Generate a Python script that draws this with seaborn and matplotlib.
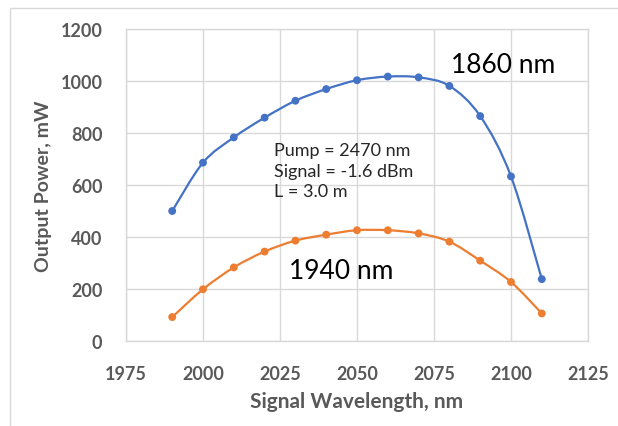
import numpy as np
import pandas as pd
import matplotlib
matplotlib.use("Agg")
import matplotlib.pyplot as plt
from matplotlib.path import Path
from matplotlib.patches import PathPatch
from matplotlib.lines import Line2D
import seaborn as sns

wavelength = [1990, 2000, 2010, 2020, 2030, 2040, 2050, 2060, 2070, 2080, 2090, 2100, 2110]
power_1860 = [500, 686, 783, 859, 924, 969, 1003, 1017, 1014, 981, 865, 633, 238]
power_1940 = [92, 199, 283, 344, 386, 409, 426, 426, 414, 382, 309, 227, 106]
series_names = ["1860 nm", "1940 nm"]
colors = ["#4472C4", "#ED7D31"]
x_ticks = [1975, 2000, 2025, 2050, 2075, 2100, 2125]
y_ticks = [0, 200, 400, 600, 800, 1000, 1200]

df = pd.DataFrame({
    "wl": wavelength * 2,
    "p": power_1860 + power_1940,
    "s": [series_names[0]] * len(wavelength) + [series_names[1]] * len(wavelength),
})

sns.set_style("white")
plt.rcParams["font.family"] = ["Lato", "DejaVu Sans"]

fig = plt.figure(figsize=(6.18, 4.27), dpi=100)
ax = fig.add_axes([126 / 618, 85 / 427, 462 / 618, 312 / 427])

ax.set_xlim(1975, 2125)
ax.set_ylim(0, 1200)
ax.set_xticks(x_ticks)
ax.set_yticks(y_ticks)
ax.grid(True, color="#d9d9d9", linewidth=1.0)
ax.set_axisbelow(True)
for sp in ax.spines.values():
    sp.set_color("#d9d9d9")
    sp.set_linewidth(1.0)


def smooth_path(xs, ys):
    # Excel-style smoothed line: Catmull-Rom converted to cubic Bezier segments
    xs = np.asarray(xs, float)
    ys = np.asarray(ys, float)
    n = len(xs)
    verts = [(xs[0], ys[0])]
    codes = [Path.MOVETO]
    t = 1.0 / 6.0
    for i in range(n - 1):
        p0 = (xs[max(i - 1, 0)], ys[max(i - 1, 0)])
        p1 = (xs[i], ys[i])
        p2 = (xs[i + 1], ys[i + 1])
        p3 = (xs[min(i + 2, n - 1)], ys[min(i + 2, n - 1)])
        c1 = (p1[0] + (p2[0] - p0[0]) * t, p1[1] + (p2[1] - p0[1]) * t)
        c2 = (p2[0] - (p3[0] - p1[0]) * t, p2[1] - (p3[1] - p1[1]) * t)
        verts += [c1, c2, p2]
        codes += [Path.CURVE4] * 3
    return Path(verts, codes)


for name, col, vals in zip(series_names, colors, [power_1860, power_1940]):
    ax.add_patch(PathPatch(smooth_path(wavelength, vals), facecolor="none",
                           edgecolor=col, linewidth=1.6, zorder=3))

sns.scatterplot(data=df, x="wl", y="p", hue="s", palette=colors, s=32,
                edgecolor="none", legend=False, ax=ax, zorder=4)

ax.set_xlabel("Signal Wavelength, nm", fontsize=15, fontweight="bold", color="#595959", labelpad=7)
ax.set_ylabel("Output Power, mW", fontsize=14, fontweight="bold", color="#595959", labelpad=6)
ax.tick_params(axis="x", length=0, labelsize=13, labelcolor="#595959", pad=17)
ax.tick_params(axis="y", length=0, labelsize=13, labelcolor="#595959", pad=17)
for lab in ax.get_xticklabels() + ax.get_yticklabels():
    lab.set_fontweight("bold")

ax.text(2080.5, 1065, "1860 nm", fontsize=19, color="black", va="center", ha="left")
ax.text(2045, 273, "1940 nm", fontsize=19, color="black", va="center", ha="center")
ax.text(2023, 765, "Pump = 2470 nm\nSignal = -1.6 dBm\nL = 3.0 m", fontsize=13,
        color="#262626", va="top", ha="left", linespacing=1.35)

fig.add_artist(Line2D([10 / 618, 10 / 618, 1.0], [0.0, 1 - 9 / 427, 1 - 9 / 427],
                      transform=fig.transFigure, color="#d9d9d9", linewidth=1.0))

fig.savefig("out.png", dpi=100)
